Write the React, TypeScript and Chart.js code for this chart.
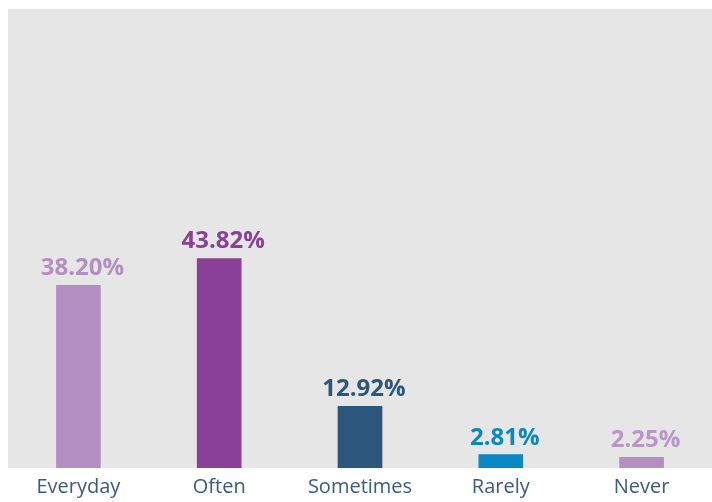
import React, { useEffect, useRef } from "react";
import { Chart, registerables } from "chart.js";

Chart.register(...registerables);

const categories = ["Everyday", "Often", "Sometimes", "Rarely", "Never"];
const values = [38.2, 43.82, 12.92, 2.81, 2.25];
const valueLabels = ["38.20%", "43.82%", "12.92%", "2.81%", "2.25%"];
const barColors = ["#b38ec0", "#8a3f98", "#2d567c", "#0a88c3", "#b38ec0"];
const labelColors = ["#b38ec0", "#8a3f98", "#2d567c", "#0a88c3", "#b996c6"];

const bgPlugin = {
  id: "plotBg",
  beforeDraw(chart: any) {
    const { ctx, chartArea } = chart;
    ctx.save();
    ctx.fillStyle = "#e6e6e6";
    ctx.fillRect(chartArea.left, chartArea.top, chartArea.right - chartArea.left, chartArea.bottom - chartArea.top);
    ctx.restore();
  },
};

const labelPlugin = {
  id: "valueLabels",
  afterDatasetsDraw(chart: any) {
    const { ctx } = chart;
    const meta = chart.getDatasetMeta(0);
    ctx.save();
    ctx.font = "bold 24px 'Open Sans'";
    ctx.textAlign = "center";
    ctx.textBaseline = "alphabetic";
    meta.data.forEach((el: any, i: number) => {
      ctx.fillStyle = labelColors[i];
      ctx.fillText(valueLabels[i], el.x + 4, el.y - 10);
    });
    ctx.restore();
  },
};

export default function App() {
  const ref = useRef<HTMLCanvasElement>(null);
  useEffect(() => {
    document.body.style.margin = "8px 0 0 8px";
    const chart = new Chart(ref.current!, {
      type: "bar",
      data: {
        labels: categories,
        datasets: [
          {
            data: values,
            backgroundColor: barColors,
            barThickness: 44,
            borderWidth: 0,
          },
        ],
      },
      options: {
        animation: false,
        responsive: false,
        maintainAspectRatio: false,
        layout: { autoPadding: false, padding: { top: 1, left: 0, right: 0, bottom: -4 } },
        plugins: { legend: { display: false }, tooltip: { enabled: false } },
        scales: {
          x: {
            grid: { display: false, drawTicks: false },
            border: { display: false },
            ticks: {
              padding: 7,
              color: "#3a5b7e",
              font: { family: "'Open Sans'", size: 20 },
              maxRotation: 0,
              autoSkip: false,
            },
          },
          y: {
            display: false,
            min: 0,
            max: 96,
          },
        },
      },
      plugins: [bgPlugin, labelPlugin],
    });
    return () => chart.destroy();
  }, []);
  return (
    <div style={{ width: 704, height: 494 }}>
      <canvas ref={ref} width={704} height={494} style={{ display: "block", width: 704, height: 494 }} />
    </div>
  );
}
